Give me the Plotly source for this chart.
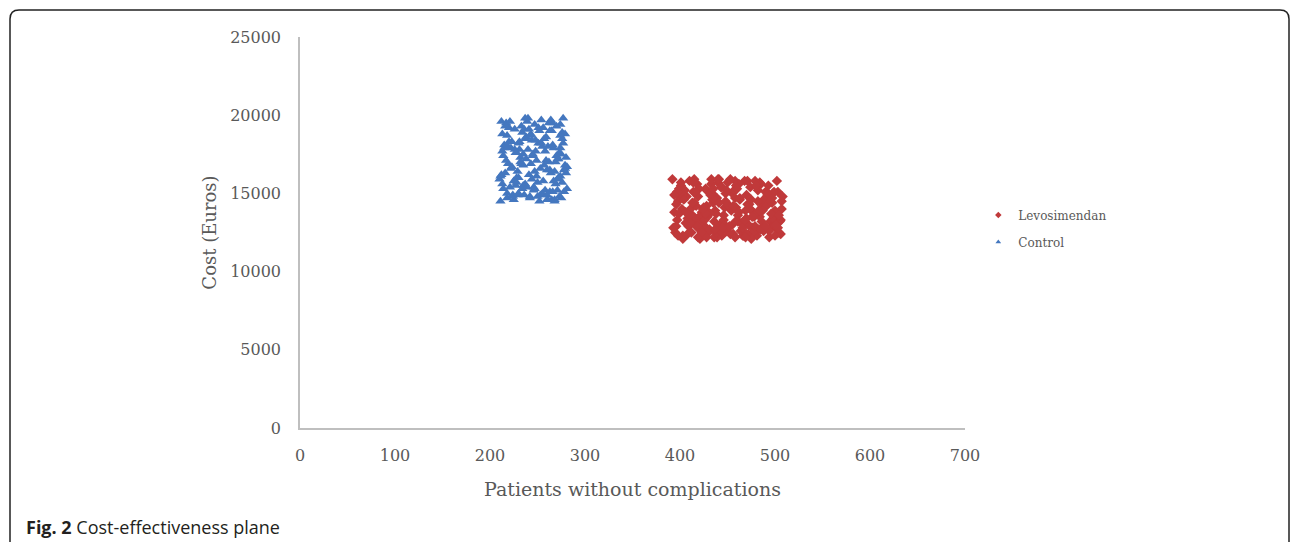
import plotly.graph_objects as go

# ---- data ----
control_x = [212, 258, 231, 275, 219, 244, 266, 237, 280, 225,
             249, 213, 271, 233, 259, 221, 277, 242, 228, 264,
             216, 253, 238, 279, 226, 247, 269, 211, 235, 261,
             274, 222, 250, 240, 215, 268, 230, 256, 278, 245,
             218, 263, 234, 272, 227, 252, 214, 241, 276, 260,
             223, 248, 267, 236, 281, 217, 255, 229, 270, 243,
             262, 210, 239, 274, 224, 251, 265, 232, 279, 246,
             220, 257, 273, 237, 213, 254, 228, 266, 242, 271,
             215, 260, 234, 277, 222, 249, 268, 231, 256, 240,
             218, 275, 243, 263, 226, 252, 212, 270, 236, 259,
             280, 225, 247, 219, 265, 233, 273, 244, 214, 258,
             238, 276, 229, 253, 267, 221, 248, 272, 235, 261,
             216, 245, 278, 230, 255, 211, 269, 241, 224, 264,
             250, 217, 274, 239, 262, 227, 246, 279, 232, 257,
             220, 266, 237, 271, 213, 251, 243, 276, 228, 260,
             223, 254, 268, 235, 281, 218, 247, 263, 230, 274]
control_y = [19600, 15200, 17800, 14700, 16900, 18400, 19500, 15600, 17300, 14600,
             16100, 18800, 15900, 19300, 17100, 15400, 18200, 14800, 17600, 19700,
             16300, 14900, 18600, 16600, 19100, 15300, 17000, 14500, 16800, 18000,
             19400, 17900, 15700, 19800, 18100, 14500, 16000, 19200, 15100, 17500,
             14700, 16500, 18900, 17200, 15500, 19000, 17400, 16200, 18500, 14600,
             18300, 17700, 15800, 14900, 16700, 19500, 15000, 16400, 19300, 18700,
             17000, 15900, 19600, 16100, 14800, 18200, 14600, 17300, 18800, 15400,
             19200, 16800, 17600, 18500, 15600, 19700, 16000, 18100, 14700, 15200,
             17900, 14900, 15300, 19800, 16600, 17100, 16400, 18300, 15800, 17800,
             15000, 17500, 16900, 15100, 17800, 14500, 16200, 17400, 19100, 18600,
             16300, 15800, 19400, 18000, 19000, 16900, 14800, 15900, 15300, 17700,
             17200, 18900, 14900, 16600, 17900, 19600, 18400, 16000, 15500, 14600,
             19300, 17400, 16500, 18200, 18000, 16100, 15600, 19100, 14900, 16300,
             14800, 17100, 18700, 15400, 19500, 17600, 15200, 16800, 17000, 18500,
             18300, 15100, 19800, 17200, 17700, 19200, 18800, 15700, 15700, 16500,
             16700, 18200, 14600, 17500, 15300, 18700, 16400, 19000, 15000, 17900]

levo_x = [395, 452, 418, 489, 431, 503, 407, 466, 441, 478,
          399, 425, 497, 458, 412, 484, 436, 470, 446, 506,
          402, 461, 421, 493, 434, 476, 415, 449, 500, 428,
          409, 487, 455, 397, 468, 439, 481, 423, 507, 444,
          413, 472, 392, 459, 430, 495, 450, 404, 485, 437,
          464, 419, 501, 442, 474, 398, 456, 427, 491, 410,
          480, 435, 467, 403, 498, 447, 420, 483, 453, 394,
          471, 426, 505, 440, 460, 411, 488, 432, 477, 401,
          457, 416, 494, 445, 469, 396, 482, 429, 508, 451,
          406, 463, 438, 499, 417, 475, 448, 400, 486, 433,
          465, 414, 492, 443, 479, 424, 504, 454, 408, 473,
          439, 496, 421, 458, 405, 484, 436, 470, 412, 502,
          446, 393, 477, 428, 490, 462, 417, 453, 498, 431,
          408, 481, 441, 467, 399, 494, 425, 459, 485, 414,
          474, 436, 506, 449, 402, 471, 422, 488, 444, 396,
          463, 433, 500, 410, 478, 455, 420, 491, 438, 465,
          403, 482, 447, 426, 496, 458, 415, 472, 430, 507,
          451, 397, 486, 440, 469, 419, 503, 434, 461, 406,
          479, 428, 493, 457, 411, 475, 443, 499, 423, 466,
          394, 487, 437, 460, 418, 504, 450, 401, 483, 432,
          470, 413, 495, 445, 476, 427, 452, 490, 404, 468,
          435, 501, 416, 462, 480, 398, 448, 424, 497, 456]
levo_y = [12500, 14200, 15600, 12900, 13700, 15100, 14800, 12300, 15900, 13500,
          15300, 12700, 14400, 15800, 13100, 15700, 12200, 14900, 13600, 12400,
          14000, 13200, 12100, 15500, 14600, 12800, 15900, 12600, 13900, 15200,
          12900, 14300, 15000, 13300, 15800, 14700, 12300, 13800, 14500, 15400,
          13600, 12400, 15900, 14100, 12500, 13200, 15700, 12200, 15600, 13900,
          12600, 14800, 12800, 13000, 15400, 14500, 12400, 15300, 14700, 15800,
          13700, 14400, 12300, 12100, 15000, 14100, 13500, 12700, 15900, 13800,
          14300, 12900, 13200, 15700, 13300, 14000, 12600, 14900, 12500, 15500,
          15200, 13400, 12200, 12700, 13900, 12900, 15200, 13500, 14800, 12800,
          13100, 14600, 13700, 13600, 14200, 12100, 15000, 14800, 14100, 15600,
          12600, 15700, 14900, 15400, 12900, 12300, 12500, 13900, 13400, 14300,
          12200, 12800, 13100, 14700, 15200, 13500, 14600, 12400, 12500, 15800,
          13300, 12800, 13800, 14200, 15100, 15600, 12900, 12400, 13400, 12700,
          12400, 15400, 14400, 13000, 13700, 12600, 14100, 15500, 12700, 15100,
          14000, 13200, 13300, 15200, 14900, 15800, 12600, 14600, 12300, 14300,
          14700, 15900, 12300, 13600, 13600, 13000, 15300, 14200, 12500, 13100,
          12300, 14500, 13000, 13300, 13700, 12200, 14400, 13000, 13800, 14000,
          14200, 15100, 13200, 15900, 12200, 12200, 12800, 15000, 13600, 13800,
          15800, 12200, 15000, 14100, 13100, 14600, 12600, 15100, 12500, 12800,
          14900, 13900, 12700, 15300, 12900, 13600, 14300, 15700, 13900, 15000,
          13400, 14400, 14500, 12800, 13500, 13700, 12900, 12900, 14600, 13300,
          15300, 13000, 15100, 13800, 15500, 12300, 14500, 14000, 14700, 14200]

series_names = ["Levosimendan", "Control"]
x_ticks = [0, 100, 200, 300, 400, 500, 600, 700]
x_ticktext = ["0", "100", "200", "300", "400", "500", "600", "700"]
y_ticks = [0, 5000, 10000, 15000, 20000, 25000]
y_ticktext = ["0", "5000", "10000", "15000", "20000", "25000"]

BLUE = "#4477bf"
RED = "#c0393a"
SERIF = "DejaVu Serif"
GREY = "#595959"

fig = go.Figure()
fig.add_trace(go.Scatter(x=control_x, y=control_y, mode="markers", showlegend=False,
                         marker=dict(symbol="triangle-up", size=9, color=BLUE, line=dict(width=0))))
fig.add_trace(go.Scatter(x=levo_x, y=levo_y, mode="markers", showlegend=False,
                         marker=dict(symbol="diamond", size=8, color=RED, line=dict(width=0))))
# legend entries (small markers as in the reference)
fig.add_trace(go.Scatter(x=[None], y=[None], mode="markers", name=series_names[0],
                         legendgroup="a",
                         marker=dict(symbol="diamond", size=5, color=RED)))
fig.add_trace(go.Scatter(x=[None], y=[None], mode="markers", name=series_names[1],
                         legendgroup="b",
                         marker=dict(symbol="triangle-up", size=5, color=BLUE)))

# rounded frame (paper coords; px -> paper)
def px_x(p):
    return (p - 300) / 665.0

def px_y(p):
    return (428 - p) / 391.0

L, R, T, B = px_x(10), px_x(1289), px_y(10), px_y(560)
dx, dy = 9 / 665.0, 9 / 391.0
path = (f"M {L},{B} L {L},{T - dy} Q {L},{T} {L + dx},{T} "
        f"L {R - dx},{T} Q {R},{T} {R},{T - dy} L {R},{B}")

fig.update_layout(
    width=1295, height=542,
    margin=dict(l=300, r=330, t=37, b=114),
    paper_bgcolor="white", plot_bgcolor="white",
    font=dict(family=SERIF, color=GREY),
    xaxis=dict(range=[0, 700], tickvals=x_ticks, ticktext=x_ticktext,
               showgrid=False, zeroline=False,
               showline=True, linecolor="#bfbfbf", linewidth=1.5, ticks="",
               ticklabelstandoff=12,
               tickfont=dict(family=SERIF, size=16, color=GREY),
               title=dict(text="Patients without complications",
                          font=dict(family=SERIF, size=19, color=GREY), standoff=19)),
    yaxis=dict(range=[0, 25000], tickvals=y_ticks, ticktext=y_ticktext,
               showgrid=False, zeroline=False,
               showline=True, linecolor="#bfbfbf", linewidth=1.5, ticks="",
               ticklabelstandoff=14,
               tickfont=dict(family=SERIF, size=16, color=GREY),
               title=dict(text="Cost (Euros)",
                          font=dict(family=SERIF, size=18, color=GREY), standoff=9)),
    legend=dict(x=1.02, y=0.51, xanchor="left", yanchor="middle",
                font=dict(family=SERIF, size=12, color=GREY),
                traceorder="grouped", itemwidth=30, tracegroupgap=8,
                bgcolor="rgba(0,0,0,0)"),
    shapes=[dict(type="path", xref="paper", yref="paper", path=path,
                 line=dict(color="#222222", width=1.5))],
    annotations=[dict(xref="paper", yref="paper", x=px_x(24), y=px_y(527),
                      xanchor="left", yanchor="middle", showarrow=False,
                      text="<b>Fig. 2</b> Cost-effectiveness plane",
                      font=dict(family="Open Sans", size=18, color="#231f20"))],
)

fig.write_html("out.html", config={"displayModeBar": False},
               post_script="document.body.style.margin='0';")
